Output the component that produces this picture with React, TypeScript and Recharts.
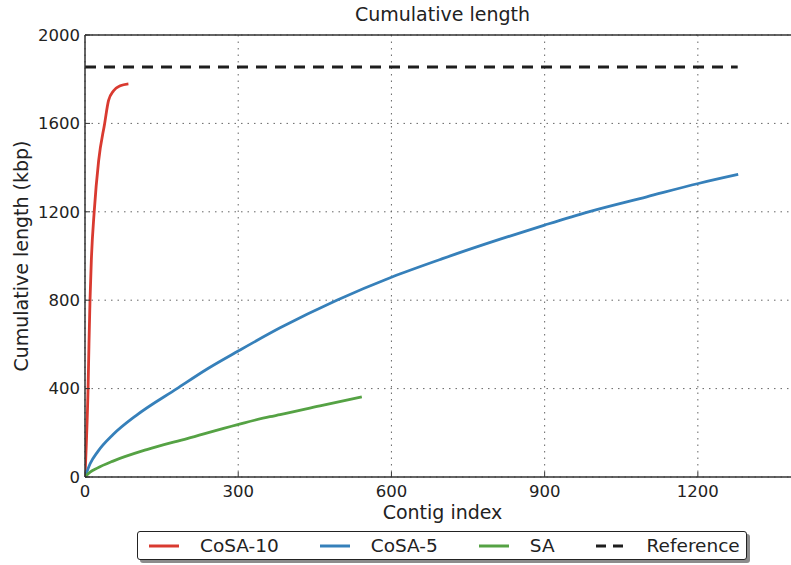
import { CartesianGrid, Line, LineChart, ReferenceLine, XAxis, YAxis } from "recharts";

const font = "'DejaVu Sans', sans-serif";

// contig index / cumulative length (kbp)
const cosa10Idx = [0, 2.6, 6, 7.8, 9.8, 12.4, 18, 26.7, 38.5, 46, 56, 69, 85];
const cosa10Len = [0, 151, 400, 603, 800, 980, 1200, 1431, 1600, 1703, 1748, 1770, 1779];

const cosa5Idx = [0, 10, 25, 55, 100, 180, 240, 300, 382, 493, 600, 700, 813, 900, 986, 1100, 1201, 1279];
const cosa5Len = [0, 60, 115, 192, 278, 400, 490, 570, 675, 800, 904, 988, 1076, 1140, 1200, 1268, 1328, 1369];

const saIdx = [0, 10, 23, 55, 121, 200, 299, 362, 382, 460, 542];
const saLen = [0, 22, 39, 72, 124, 174, 237, 273, 282, 322, 363];

const refIdx = [0, 1278];
const refLen = [1855, 1855];

const xTicks = [0, 300, 600, 900, 1200];
const yTicks = [0, 400, 800, 1200, 1600, 2000];

const toPoints = (xs: number[], ys: number[]) => xs.map((x, i) => ({ x, y: ys[i] }));

const series = [
  { name: "CoSA-10", color: "#d93a30", dash: undefined, data: toPoints(cosa10Idx, cosa10Len) },
  { name: "CoSA-5", color: "#3680ba", dash: undefined, data: toPoints(cosa5Idx, cosa5Len) },
  { name: "SA", color: "#55a244", dash: undefined, data: toPoints(saIdx, saLen) },
  { name: "Reference", color: "#1e1e1e", dash: "11 8", data: toPoints(refIdx, refLen) },
];

const tickStyle = { fill: "#222", fontSize: 16.5, fontFamily: font };
const axisLine = { stroke: "#333", strokeWidth: 1.5 };

export default function App() {
  return (
    <div style={{ position: "absolute", left: 0, top: 0, width: 791, height: 565, overflow: "hidden", background: "#fff" }}>
      <div
        style={{
          position: "absolute",
          left: 85,
          width: 715,
          top: 5,
          textAlign: "center",
          fontFamily: font,
          fontSize: 19,
          lineHeight: "19px",
          color: "#222",
        }}
      >
        Cumulative length
      </div>
      <LineChart width={800} height={565} margin={{ top: 35, right: 0, bottom: 0, left: 0 }}>
        <CartesianGrid stroke="#666" strokeDasharray="1.5 5" />
        <XAxis
          type="number"
          dataKey="x"
          domain={[0, 1400]}
          ticks={xTicks}
          allowDataOverflow
          height={88}
          tickSize={-5}
          tickMargin={13}
          tick={tickStyle}
          axisLine={axisLine}
          tickLine={{ stroke: "#333", strokeWidth: 1 }}
          label={{ value: "Contig index", position: "insideBottom", offset: 46, style: { fontSize: 19, fill: "#222", fontFamily: font } }}
        />
        <YAxis
          type="number"
          dataKey="y"
          domain={[0, 2000]}
          ticks={yTicks}
          width={85}
          tickSize={-5}
          tickMargin={10}
          tick={tickStyle}
          axisLine={axisLine}
          tickLine={{ stroke: "#333", strokeWidth: 1 }}
          label={{
            value: "Cumulative length (kbp)",
            angle: -90,
            position: "insideLeft",
            offset: 21,
            style: { textAnchor: "middle", fontSize: 19, fill: "#222", fontFamily: font },
          }}
        />
        <ReferenceLine y={2000} stroke="#333" strokeWidth={1.5} />
        {series.map((s) => (
          <Line
            key={s.name}
            data={s.data}
            dataKey="y"
            name={s.name}
            type={s.dash ? "linear" : "monotone"}
            stroke={s.color}
            strokeWidth={s.dash ? 3 : 2.8}
            strokeDasharray={s.dash}
            dot={false}
            activeDot={false}
            isAnimationActive={false}
          />
        ))}
      </LineChart>
      <div
        style={{
          position: "absolute",
          left: 137,
          top: 531,
          width: 610,
          height: 29,
          boxSizing: "border-box",
          border: "1.3px solid #222",
          borderRadius: 3,
          boxShadow: "3px 3px 0 #8c8c8c",
          background: "#fff",
          display: "flex",
          alignItems: "center",
          paddingLeft: 11,
          fontFamily: font,
          fontSize: 18.5,
          color: "#222",
        }}
      >
        {series.map((s, i) => (
          <div key={s.name} style={{ display: "flex", alignItems: "center", marginLeft: i === 0 ? 0 : 41 }}>
            <svg width={30} height={6} style={{ marginRight: 21 }}>
              <line x1={0} y1={3} x2={30} y2={3} stroke={s.color} strokeWidth={3} strokeDasharray={s.dash ? "10 7" : undefined} />
            </svg>
            <span>{s.name}</span>
          </div>
        ))}
      </div>
    </div>
  );
}
